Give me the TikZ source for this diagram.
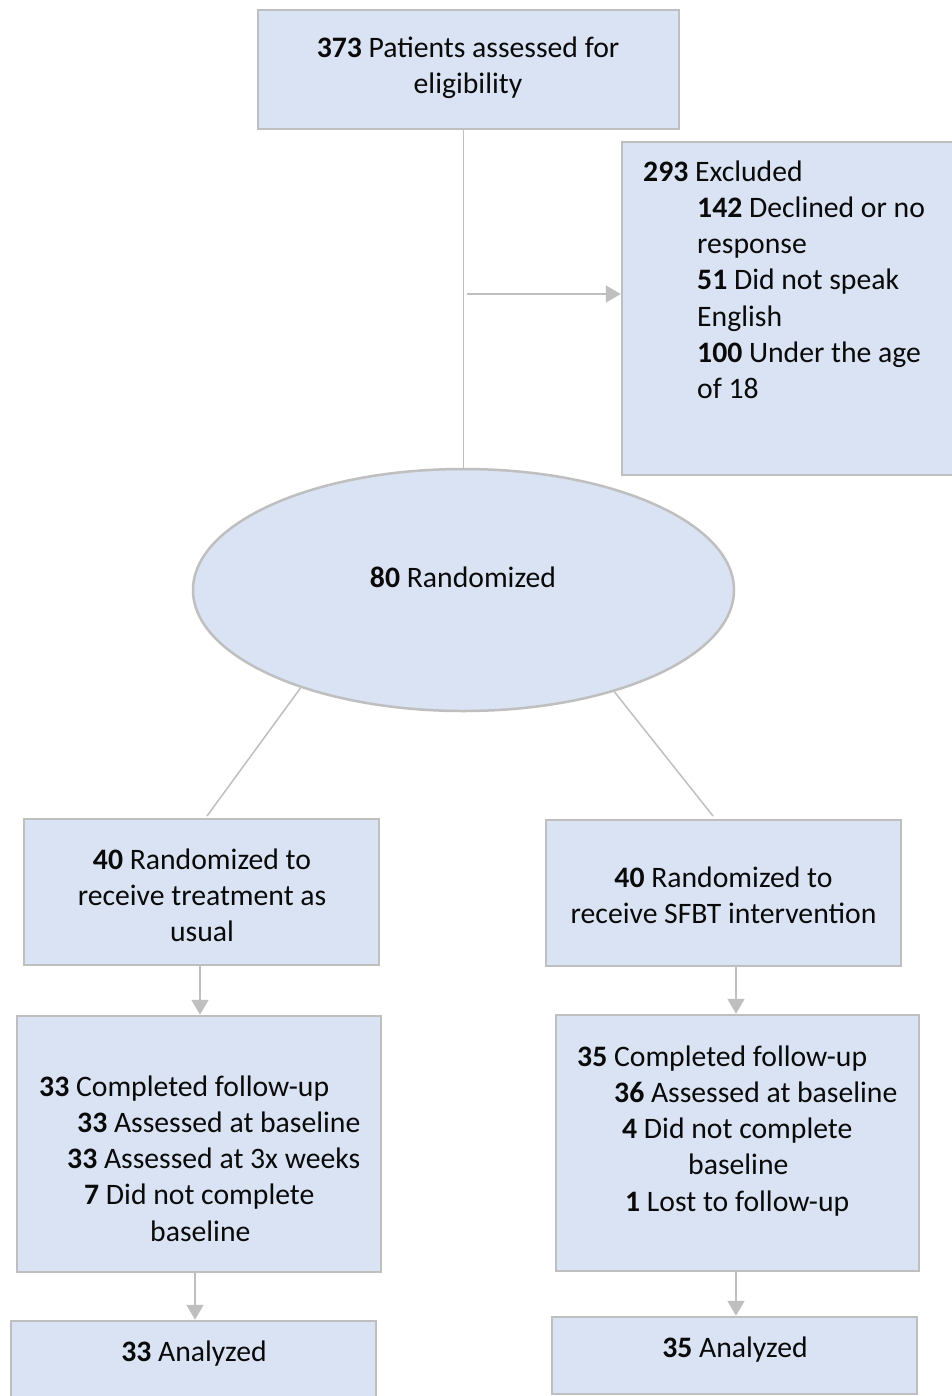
\documentclass[tikz,border=0pt]{standalone}
\usepackage{fontspec}
\setmainfont{Carlito}
\usetikzlibrary{shapes.geometric,arrows.meta}
\definecolor{boxfill}{HTML}{DAE3F3}
\definecolor{boxline}{HTML}{BFBFBF}
\definecolor{connc}{HTML}{BFBFBF}
\definecolor{txtc}{HTML}{0A0A0A}
\begin{document}
\begin{tikzpicture}[x=1pt,y=-1pt,
  box/.style={draw=boxline,fill=boxfill,line width=2.5pt,rectangle,inner sep=0pt},
  ellbox/.style={draw=boxline,fill=boxfill,line width=2.5pt,ellipse,inner sep=0pt},
  txt/.style={inner sep=0pt,font=\fontsize{29.7}{36.2}\selectfont,text=txtc},
  conn/.style={draw=connc,line width=1.5pt},
  arr/.style={conn,-{Triangle[length=15pt,width=17pt]}}]
\useasboundingbox (0,0) rectangle (952,1396);
\clip (0,0) rectangle (952,1396);
\fill[white] (0,0) rectangle (952,1396);
% boxes
\node[box,minimum width=421pt,minimum height=119pt] (b1) at (468.5,69.5) {};
\node[box,minimum width=368pt,minimum height=333pt] (ex) at (806,308.5) {};
\node[ellbox,minimum width=541pt,minimum height=242pt] (el) at (463.5,590) {};
\node[box,minimum width=355pt,minimum height=146pt] (b2L) at (201.5,892) {};
\node[box,minimum width=355pt,minimum height=146pt] (b2R) at (723.5,893) {};
\node[box,minimum width=364pt,minimum height=256pt] (b3L) at (199,1144) {};
\node[box,minimum width=363pt,minimum height=256pt] (b3R) at (737.5,1143) {};
\node[box,minimum width=365pt,minimum height=118pt] (b4L) at (193.5,1380) {};
\node[box,minimum width=365pt,minimum height=77pt] (b4R) at (734.5,1355.5) {};
% connectors
\draw[conn] (b1.south -| el.north) -- (el.north);
\coordinate (hs) at (467,294);
\draw[arr] (hs) -- (hs -| ex.west);
\coordinate (lt) at (207,816);
\coordinate (rt) at (713,816);
\draw[conn] (el.211.25) -- (lt);
\draw[conn] (el.326.9) -- (rt);
\draw[arr] ([xshift=-1.5pt]b2L.south) -- ([xshift=-1.5pt]b2L.south |- b3L.north);
\draw[arr] ([xshift=-1.5pt]b3R.north |- b2R.south) -- ([xshift=-1.5pt]b3R.north);
\draw[arr] ([xshift=1.5pt]b4L.north |- b3L.south) -- ([xshift=1.5pt]b4L.north);
\draw[arr] ([xshift=1.5pt]b4R.north |- b3R.south) -- ([xshift=1.5pt]b4R.north);
% texts
\node[txt,anchor=north,align=center] (t1) at (468,31.8) {\strut\textbf{373} Patients assessed for\\eligibility};
\node[txt,anchor=north west,align=left] (tex) at (643,155.8) {\strut\textbf{293} Excluded\\
\hspace*{54pt}\textbf{142} Declined or no\\
\hspace*{54pt}response\\
\hspace*{54pt}\textbf{51} Did not speak\\
\hspace*{54pt}English\\
\hspace*{54pt}\textbf{100} Under the age\\
\hspace*{54pt}of 18};
\node[txt,anchor=base] (tel) at (463,587) {\textbf{80} Randomized};
\node[txt,anchor=north,align=center] (t2L) at (202,843.8) {\strut\textbf{40} Randomized to\\receive treatment as\\usual};
\node[txt,anchor=north,align=center] (t2R) at (723.5,861.8) {\strut\textbf{40} Randomized to\\receive SFBT intervention};
\node[txt,anchor=north west,align=left] (t3L) at (39,1070.8) {\strut\textbf{33} Completed follow-up\\
\hspace*{38pt}\textbf{33} Assessed at baseline\\
\hspace*{28pt}\textbf{33} Assessed at 3x weeks\\
\hspace*{45pt}\textbf{7} Did not complete\\
\hspace*{111pt}baseline};
\node[txt,anchor=north west,align=left] (t3R) at (577,1040.8) {\strut\textbf{35} Completed follow-up\\
\hspace*{37pt}\textbf{36} Assessed at baseline\\
\hspace*{45pt}\textbf{4} Did not complete\\
\hspace*{111pt}baseline\\
\hspace*{48pt}\textbf{1} Lost to follow-up};
\node[txt,anchor=base] (t4L) at (194,1361) {\textbf{33} Analyzed};
\node[txt,anchor=base] (t4R) at (735,1357) {\textbf{35} Analyzed};
\end{tikzpicture}
\end{document}
